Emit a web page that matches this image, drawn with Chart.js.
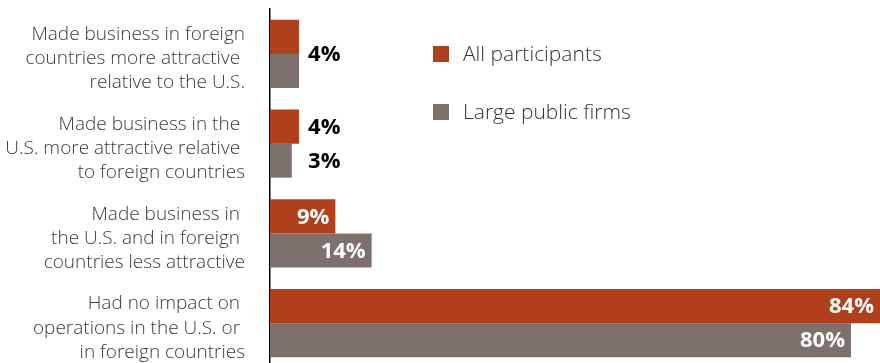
<!DOCTYPE html>
<html>
<head>
<meta charset="utf-8">
<script src="https://cdn.jsdelivr.net/npm/chart.js@4/dist/chart.umd.min.js"></script>
<style>
  html, body { margin: 0; padding: 0; background: #fff; overflow: hidden; }
  #wrap { position: relative; width: 880px; height: 370px; }
</style>
</head>
<body>
<div id="wrap"><canvas id="myChart"></canvas></div>
<script>
// categories, one array of lines per group
const categories = [
    ['Made business in foreign', 'countries more attractive ', 'relative to the U.S.'],
    ['Made business in the ', 'U.S. more attractive relative ', 'to foreign countries'],
    ['Made business in ', 'the U.S. and in foreign ', 'countries less attractive'],
    ['Had no impact on ', 'operations in the U.S. or ', 'in foreign countries']
];
const seriesNames = ['All participants', 'Large public firms'];
const allParticipants = [4, 4, 9, 84];
const largePublicFirms = [4, 3, 14, 80];
const seriesColors = ['#b0401c', '#7c716c'];

const lightFont = '"Open Sans", "Noto Sans", sans-serif';

// percent labels: white inside long bars, black bold beside short ones
const valueLabels = {
    id: 'valueLabels',
    afterDatasetsDraw(chart) {
        const ctx = chart.ctx;
        const metas = chart.data.datasets.map((d, i) => chart.getDatasetMeta(i));
        ctx.save();
        ctx.font = 'bold 22px ' + lightFont;
        ctx.textBaseline = 'middle';
        chart.data.labels.forEach((lab, idx) => {
            const outside = [];
            metas.forEach((meta, di) => {
                const bar = meta.data[idx];
                const v = chart.data.datasets[di].data[idx];
                const txt = v + '%';
                const w = ctx.measureText(txt).width;
                if (bar.x - bar.base > w + 14) {
                    ctx.fillStyle = '#fff';
                    ctx.textAlign = 'right';
                    ctx.fillText(txt, bar.x - 6, bar.y + 1);
                } else {
                    outside.push({ bar: bar, v: v, txt: txt });
                }
            });
            if (!outside.length) return;
            const x = Math.max(...outside.map(o => o.bar.x)) + 9;
            ctx.fillStyle = '#000';
            ctx.textAlign = 'left';
            if (outside.length == 2 && outside[0].v == outside[1].v) {
                ctx.fillText(outside[0].txt, x, (outside[0].bar.y + outside[1].bar.y) / 2 + 1);
            } else {
                outside.forEach(o => ctx.fillText(o.txt, x, o.bar.y + 1));
            }
        });
        ctx.restore();
    }
};

// legend drawn as a block to the right of the small bars
const sideLegend = {
    id: 'sideLegend',
    afterDraw(chart) {
        const ctx = chart.ctx;
        ctx.save();
        ctx.font = '300 21px ' + lightFont;
        ctx.textBaseline = 'middle';
        ctx.textAlign = 'left';
        chart.data.datasets.forEach((ds, i) => {
            const cy = 54 + i * 58;
            ctx.fillStyle = ds.backgroundColor;
            ctx.fillRect(433, cy - 8, 16, 16);
            ctx.fillStyle = '#333';
            ctx.fillText(ds.label, 463, cy + 1);
        });
        ctx.restore();
    }
};

const ctx = document.getElementById('myChart');
const data = {
    labels: categories,
    datasets: [{
        label: seriesNames[0],
        data: allParticipants,
        backgroundColor: seriesColors[0]
    }, {
        label: seriesNames[1],
        data: largePublicFirms,
        backgroundColor: seriesColors[1]
    }]
};

const config = {
    type: 'bar',
    data: data,
    plugins: [valueLabels, sideLegend],
    options: {
        indexAxis: 'y',
        responsive: true,
        maintainAspectRatio: false,
        animation: false,
        layout: { padding: { top: 9, bottom: 2, left: 0, right: 0 } },
        datasets: {
            bar: { categoryPercentage: 0.76, barPercentage: 1.0 }
        },
        plugins: {
            legend: { display: false },
            tooltip: { enabled: false }
        },
        scales: {
            x: {
                display: false,
                min: 0,
                max: 84
            },
            y: {
                afterFit: (scale) => {
                    // labels may spill past the plot, keep the plot full height
                    scale.width = 270;
                    scale.paddingTop = 0;
                    scale.paddingBottom = 0;
                },
                grid: { display: false, drawTicks: false },
                border: { display: true, color: '#000', width: 1.5 },
                ticks: {
                    padding: 25,
                    labelOffset: 5,
                    color: '#3a3a3a',
                    font: { family: lightFont, size: 19, weight: 300, lineHeight: 1.27 }
                }
            }
        }
    }
};

window.myChart = new Chart(ctx, config);
</script>
</body>
</html>
